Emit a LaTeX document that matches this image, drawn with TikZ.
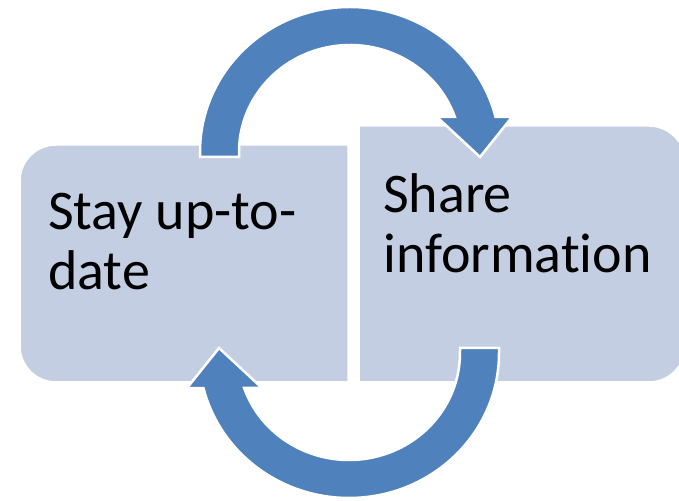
\documentclass[tikz,border=0pt]{standalone}
\usepackage{fontspec}
\setmainfont{Carlito}[Ligatures=NoCommon]
\definecolor{boxfill}{RGB}{196,206,226}
\definecolor{arrowblue}{RGB}{79,129,189}
\begin{document}
\begin{tikzpicture}[x=1pt,y=1pt,
  boxshape/.style={fill=boxfill, draw=white, line width=1.5pt},
  arrowshape/.style={fill=arrowblue, draw=white, line width=2.5pt, line join=miter},
  boxtext/.style={anchor=base west, align=left, inner sep=0pt, font=\fontsize{56}{60}\selectfont}]
\useasboundingbox (0,0) rectangle (679,500);
\begin{scope}
\clip (0,0) rectangle (679,500);
% left box
\draw[boxshape] (348,355) -- (56,355) arc[start angle=90,end angle=180,radius=36]
  -- (20,154) arc[start angle=180,end angle=270,radius=36] -- (348,118) -- cycle;
% right box
\draw[boxshape] (359,118) -- (649,118) arc[start angle=270,end angle=360,radius=36]
  -- (685,338) arc[start angle=0,end angle=90,radius=36] -- (359,374) -- cycle;
\end{scope}
% text (anchor at baseline of last line)
\node[boxtext] (stay) at (48,210) {Stay up-to-\\date};
\node[boxtext] (share) at (383,227) {Share\\information};
% top arrow
\path[arrowshape] (200,343) -- (200,348)
  arc[start angle=180,end angle=14,x radius=150,y radius=145]
  -- (512,383) -- (480,343) -- (437,383) -- (454.9,383)
  arc[start angle=19.1,end angle=180,x radius=111,y radius=107]
  -- (239,343) -- cycle;
% bottom arrow (same shape turned half round)
\begin{scope}[rotate around={180:(349.5,247.5)}]
\path[arrowshape] (200,343) -- (200,348)
  arc[start angle=180,end angle=14,x radius=150,y radius=145]
  -- (512,383) -- (480,343) -- (437,383) -- (454.9,383)
  arc[start angle=19.1,end angle=180,x radius=111,y radius=107]
  -- (239,343) -- cycle;
\end{scope}
\end{tikzpicture}
\end{document}
